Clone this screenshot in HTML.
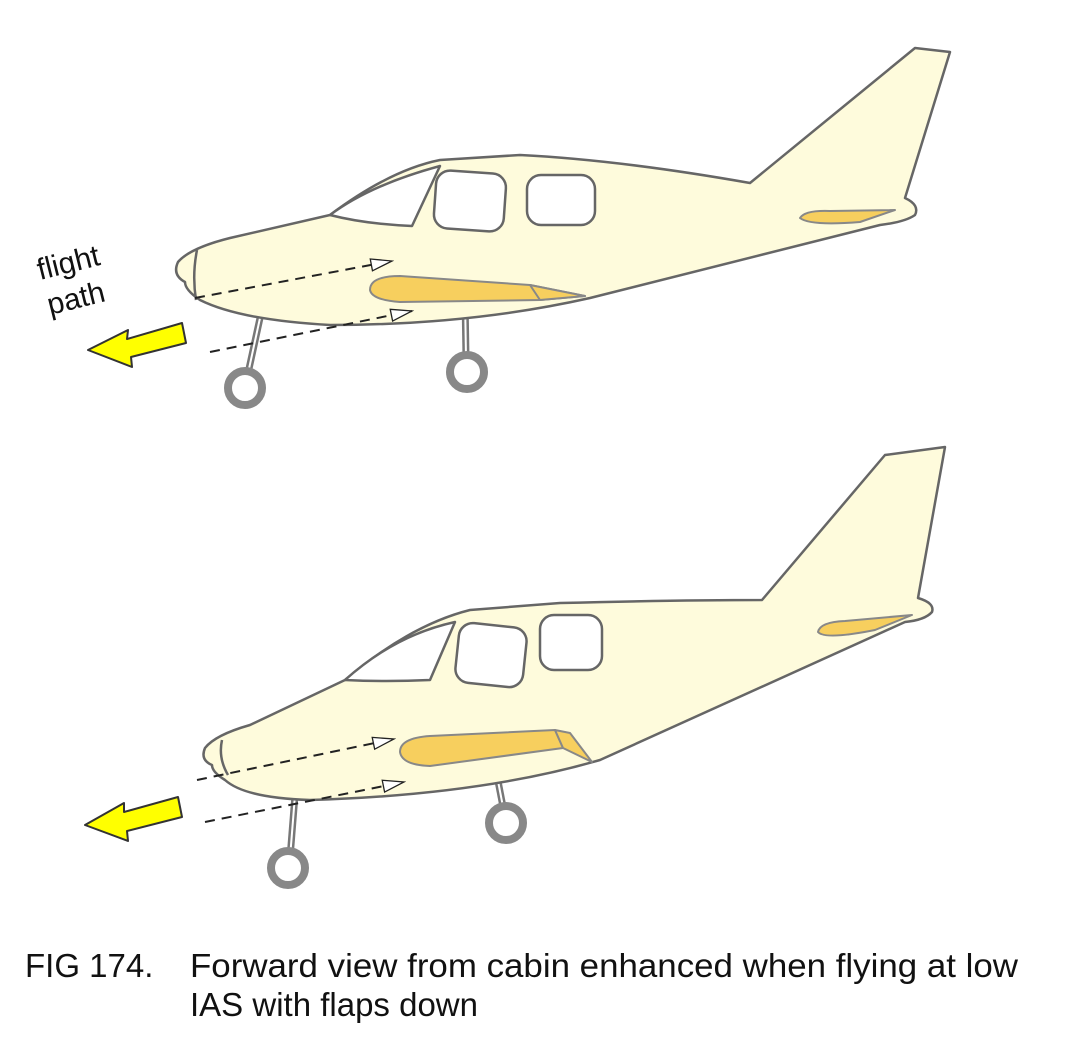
<!DOCTYPE html>
<html><head><meta charset="utf-8"><style>
html,body{margin:0;padding:0;background:#fff;}
svg{display:block;}
text{font-family:"Liberation Sans",Arial,sans-serif;fill:#111;}
</style></head><body>
<svg width="1080" height="1050" viewBox="0 0 1080 1050" xmlns="http://www.w3.org/2000/svg">
<defs>
<marker id="ah" markerWidth="24" markerHeight="16" refX="22" refY="8" orient="auto" markerUnits="userSpaceOnUse">
<path d="M1,2 L22,8 L1,14 Z" fill="#fff" stroke="#222" stroke-width="1.3"/>
</marker>
</defs>

<!-- TOP PLANE -->
<g stroke="#666" stroke-width="2.5" stroke-linejoin="round">
<line x1="260" y1="318" x2="247" y2="378" stroke="#777" stroke-width="7"/>
<line x1="260" y1="318" x2="247" y2="378" stroke="#fff" stroke-width="2"/>
<line x1="465" y1="298" x2="466" y2="358" stroke="#777" stroke-width="7"/>
<line x1="465" y1="298" x2="466" y2="358" stroke="#fff" stroke-width="2"/>
<circle cx="245" cy="388" r="17" fill="#fff" stroke="#888" stroke-width="8"/>
<circle cx="467" cy="372" r="17" fill="#fff" stroke="#888" stroke-width="8"/>
<path d="M178,262 Q190,248 230,238 L330,215 Q390,170 440,160 L520,155 Q620,160 750,183 L915,48 L950,52 L905,198 Q920,205 915,215 Q905,222 880,225 L590,298 Q470,325 330,325 Q240,320 200,300 Q185,290 185,282 Q172,275 178,262 Z" fill="#fefbdc"/>
<path d="M197,250 Q192,275 196,300" fill="none"/>
<path d="M330,215 Q370,185 440,166 L412,226 Q365,224 330,215 Z" fill="#fff"/>
<rect x="435" y="172" width="70" height="58" rx="14" fill="#fff" transform="rotate(4 470 200)"/>
<rect x="527" y="175" width="68" height="50" rx="14" fill="#fff"/>
<path d="M800,218 Q805,210 830,211 L895,210 L860,222 Q810,226 800,218 Z" fill="#f7cf5e" stroke="#888" stroke-width="2"/>
<path d="M370,290 Q370,276 400,276 L530,285 L585,296 L540,300 L400,302 Q372,300 370,290 Z" fill="#f7cf5e" stroke="#888" stroke-width="2"/>
<path d="M530,285 L585,296 L540,300 Z" fill="#f7cf5e" stroke="#888" stroke-width="2"/>
</g>
<line x1="195" y1="298" x2="392" y2="261" stroke="#222" stroke-width="2" stroke-dasharray="10,7" marker-end="url(#ah)"/>
<line x1="210" y1="352" x2="412" y2="311" stroke="#222" stroke-width="2" stroke-dasharray="10,7" marker-end="url(#ah)"/>
<polygon points="88,350 128,330 127,339 182,323 186,343 131,357 132,367" fill="#ffff00" stroke="#333" stroke-width="2" stroke-linejoin="round"/>
<text x="40" y="280" font-size="30" transform="rotate(-14 40 280)">flight</text>
<text x="50" y="315" font-size="30" transform="rotate(-14 50 315)">path</text>

<!-- BOTTOM PLANE -->
<g stroke="#666" stroke-width="2.5" stroke-linejoin="round">
<line x1="295" y1="795" x2="290" y2="858" stroke="#777" stroke-width="7"/>
<line x1="295" y1="795" x2="290" y2="858" stroke="#fff" stroke-width="2"/>
<line x1="493" y1="755" x2="504" y2="812" stroke="#777" stroke-width="7"/>
<line x1="493" y1="755" x2="504" y2="812" stroke="#fff" stroke-width="2"/>
<circle cx="288" cy="868" r="17" fill="#fff" stroke="#888" stroke-width="8"/>
<circle cx="506" cy="823" r="17" fill="#fff" stroke="#888" stroke-width="8"/>
<path d="M205,748 Q215,735 250,725 L345,680 Q410,625 470,610 L560,603 Q680,600 762,600 L885,455 L945,447 L918,598 Q935,603 932,612 Q925,620 905,622 L600,760 Q480,795 310,800 Q245,798 225,780 Q212,772 212,765 Q200,760 205,748 Z" fill="#fefbdc"/>
<path d="M222,740 Q218,758 228,775" fill="none"/>
<path d="M345,680 Q395,635 455,622 L430,680 Q385,682 345,680 Z" fill="#fff"/>
<rect x="457" y="625" width="68" height="60" rx="14" fill="#fff" transform="rotate(6 490 655)"/>
<rect x="540" y="615" width="62" height="55" rx="14" fill="#fff"/>
<path d="M818,632 Q820,622 845,621 L912,615 L875,630 Q825,640 818,632 Z" fill="#f7cf5e" stroke="#888" stroke-width="2"/>
<path d="M400,752 Q400,738 430,736 L555,730 L563,748 L430,766 Q402,765 400,752 Z" fill="#f7cf5e" stroke="#888" stroke-width="2"/>
<path d="M555,730 L570,733 L592,762 L563,748 Z" fill="#f7cf5e" stroke="#888" stroke-width="2"/>
</g>
<line x1="197" y1="780" x2="394" y2="739" stroke="#222" stroke-width="2" stroke-dasharray="10,7" marker-end="url(#ah)"/>
<line x1="205" y1="822" x2="404" y2="782" stroke="#222" stroke-width="2" stroke-dasharray="10,7" marker-end="url(#ah)"/>
<polygon points="85,825 124,803 124,812 178,797 182,817 127,831 128,841" fill="#ffff00" stroke="#333" stroke-width="2" stroke-linejoin="round"/>

<text x="25" y="977" font-size="33">FIG 174.</text>
<text x="190" y="977" font-size="33" textLength="828" lengthAdjust="spacingAndGlyphs">Forward view from cabin enhanced when flying at low</text>
<text x="190" y="1016" font-size="33">IAS with flaps down</text>
</svg>
</body></html>
